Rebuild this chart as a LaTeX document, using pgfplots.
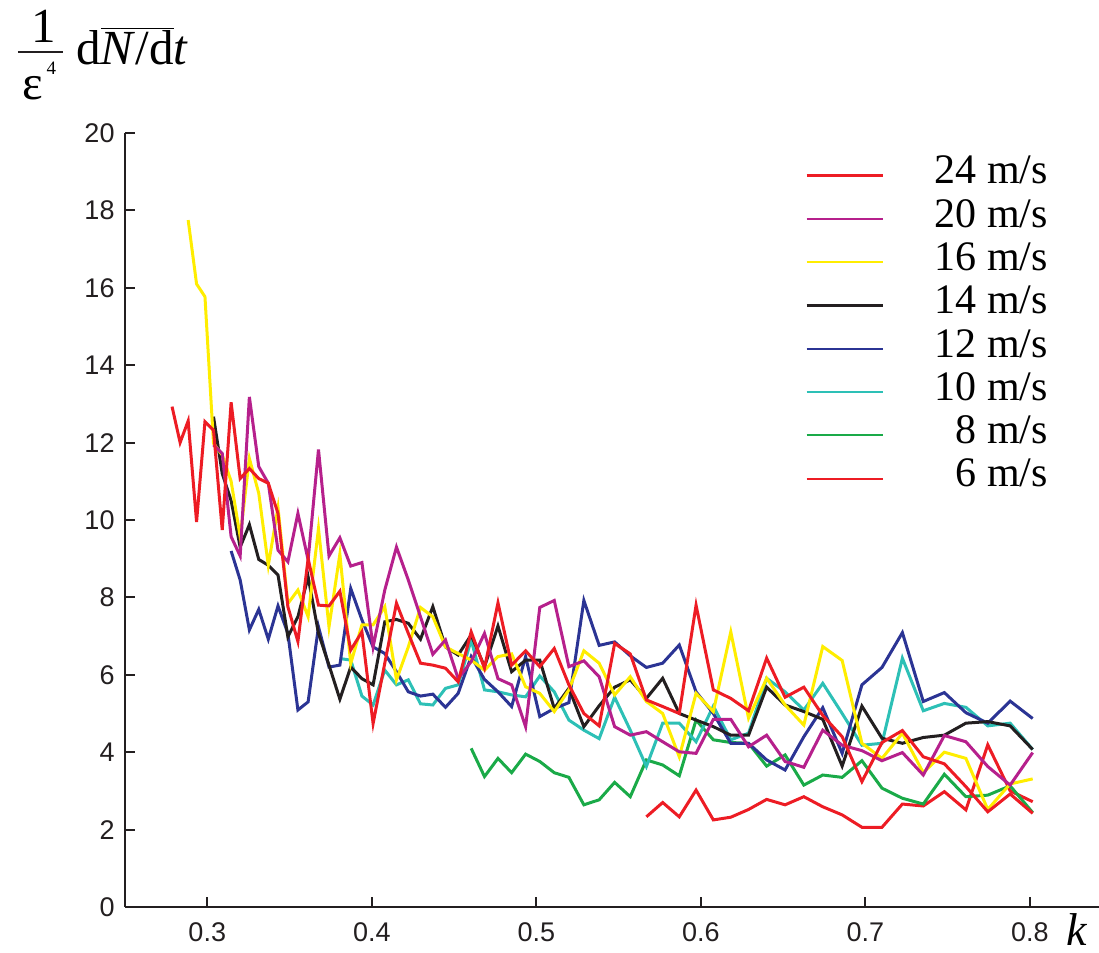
\documentclass[border=0pt]{standalone}
\usepackage{pgfplots}
\usepackage{pgfplotstable}
\pgfplotsset{compat=1.18}
\usepackage{fontspec}
\setmainfont{Liberation Serif}
\newfontfamily\sansfont{Liberation Sans}
\definecolor{cred}{RGB}{237,28,36}
\definecolor{cmag}{RGB}{182,32,140}
\definecolor{cyel}{RGB}{255,237,0}
\definecolor{cblk}{RGB}{35,31,32}
\definecolor{cblu}{RGB}{43,52,148}
\definecolor{ccya}{RGB}{45,192,182}
\definecolor{cgrn}{RGB}{26,170,72}
\definecolor{axgray}{RGB}{35,31,32}

\pgfplotstableread{
k      r24   m20   y16   k14   b12   c10   g8    r6
0.2786 12.93 nan   nan   nan   nan   nan   nan   nan
0.2835 12.00 nan   nan   nan   nan   nan   nan   nan
0.2884 12.56 nan   17.75 nan   nan   nan   nan   nan
0.2935 9.95  nan   16.10 nan   nan   nan   nan   nan
0.2986 12.54 nan   15.77 nan   nan   nan   nan   nan
0.3038 12.32 11.94 11.98 12.67 nan   nan   nan   nan
0.3091 9.74  11.72 11.68 11.20 nan   nan   nan   nan
0.3145 13.04 9.57  11.00 10.50 9.20  nan   nan   nan
0.3200 11.07 9.07  9.57  9.30  8.45  nan   nan   nan
0.3256 11.33 13.18 11.59 9.88  7.16  nan   nan   nan
0.3313 11.07 11.38 10.69 8.98  7.69  nan   nan   nan
0.3371 10.95 10.95 8.83  8.83  6.92  nan   nan   nan
0.3430 10.17 9.22  10.32 8.58  7.78  nan   nan   nan
0.3490 7.76  8.92  7.84  6.98  7.07  nan   nan   nan
0.3551 6.86  10.17 8.19  7.50  5.09  nan   nan   nan
0.3613 9.00  8.97  7.50  8.53  5.30  nan   nan   nan
0.3676 7.80  11.82 9.78  7.07  7.24  nan   nan   nan
0.3740 7.78  9.07  7.24  6.25  6.20  nan   nan   nan
0.3806 8.16  9.54  9.12  5.37  6.25  6.42  nan   nan
0.3872 6.64  8.81  6.29  6.20  8.23  6.38  nan   nan
0.3940 7.11  8.90  7.29  5.90  7.42  5.45  nan   nan
0.4008 4.74  6.72  7.29  5.74  6.72  5.22  nan   nan
0.4079 6.30  8.19  7.76  7.37  6.55  6.12  nan   nan
0.4150 7.85  9.30  5.87  7.43  6.08  5.74  nan   nan
0.4222 7.07  8.45  6.72  7.33  5.56  5.87  nan   nan
0.4296 6.30  7.50  7.74  6.92  5.45  5.25  nan   nan
0.4371 6.25  6.53  7.50  7.76  5.50  5.22  nan   nan
0.4448 6.17  6.90  6.72  6.72  5.16  5.65  nan   nan
0.4525 5.82  5.90  6.55  6.51  5.52  5.74  nan   nan
0.4604 7.11  6.34  6.38  7.03  6.47  6.90  4.10  nan
0.4685 6.17  7.07  6.12  6.21  5.88  5.61  3.37  nan
0.4767 7.86  5.90  6.47  7.26  5.56  5.56  3.84  nan
0.4850 6.25  5.74  6.54  6.08  5.18  5.48  3.47  nan
0.4935 6.62  4.66  5.69  6.38  6.47  5.43  3.95  nan
0.5021 6.21  7.74  5.52  6.38  4.92  5.97  3.76  nan
0.5109 6.68  7.92  5.05  5.13  5.13  5.56  3.47  nan
0.5198 5.74  6.21  5.61  5.65  5.28  4.83  3.35  nan
0.5289 5.00  6.36  6.62  4.66  7.92  4.57  2.64  nan
0.5382 4.68  5.95  6.30  5.20  6.76  4.35  2.77  nan
0.5476 6.81  4.66  5.48  5.68  6.85  5.42  3.22  nan
0.5571 6.54  4.44  5.95  5.87  6.49  4.57  2.85  nan
0.5669 5.35  4.53  5.31  5.39  6.19  3.63  3.80  2.33
0.5768 5.18  4.27  5.00  5.91  6.30  4.75  3.67  2.70
0.5869 5.00  4.01  3.88  5.00  6.77  4.75  3.39  2.33
0.5971 7.80  3.97  5.52  4.83  5.56  4.27  4.83  3.02
0.6076 5.61  4.85  5.05  4.66  5.00  5.19  4.32  2.25
0.6182 5.39  4.85  7.11  4.44  4.23  4.32  4.25  2.32
0.6290 5.07  4.14  4.88  4.44  4.23  4.49  4.23  2.52
0.6400 6.43  4.44  5.91  5.68  3.80  5.91  3.64  2.78
0.6512 5.42  3.76  5.22  5.22  3.54  5.56  3.93  2.64
0.6626 5.68  3.61  4.70  5.05  4.40  5.09  3.15  2.85
0.6741 4.95  4.57  6.73  4.85  5.15  5.78  3.41  2.59
0.6859 4.40  4.18  6.37  3.64  3.97  5.00  3.35  2.38
0.6979 3.24  4.04  4.23  5.19  5.74  4.18  3.78  2.06
0.7101 4.25  3.78  3.84  4.36  6.19  4.23  3.07  2.06
0.7225 4.56  3.99  4.49  4.23  7.09  6.43  2.81  2.66
0.7352 3.88  3.41  3.47  4.38  5.31  5.07  2.66  2.61
0.7480 3.70  4.43  4.00  4.44  5.54  5.26  3.43  2.98
0.7611 3.11  4.27  3.84  4.75  5.02  5.16  2.85  2.51
0.7744 2.46  3.63  2.52  4.79  4.75  4.68  2.89  4.19
0.7880 2.92  3.15  3.18  4.68  5.32  4.75  3.13  3.00
0.8017 2.42  3.99  3.31  4.07  4.87  4.07  2.44  2.72
}\data

\begin{document}
\begin{tikzpicture}
\path[use as bounding box] (-62.5pt,-23pt) rectangle (487pt,453.5pt);
\begin{axis}[
  at={(0pt,0pt)}, anchor=south west,
  scale only axis, width=487pt, height=387pt,
  xmin=0.25, xmax=0.842, ymin=0, ymax=20,
  axis lines*=left,
  tick align=inside,
  major tick length=5pt,
  axis line style={line width=1pt, color=axgray},
  tick style={line width=1pt, color=axgray},
  xtick={0.3,0.4,0.5,0.6,0.7,0.8},
  ytick={0,2,4,6,8,10,12,14,16,18,20},
  minor tick num=0,
  /pgf/number format/assume math mode=true,
  ticklabel style={font=\sansfont\fontsize{13.5}{15}\selectfont, color=axgray},
  xticklabel style={/pgf/number format/fixed, /pgf/number format/fixed zerofill, /pgf/number format/precision=1, yshift=-4.5pt},
  yticklabel style={xshift=-1.7pt},
  scaled ticks=false,
  reverse legend,
  legend cell align=right,
  legend style={draw=none, fill=none, at={(0.9476,0.973)}, anchor=north east,
    inner sep=0pt, outer sep=0pt, row sep=0pt,
    font=\fontsize{21}{25}\selectfont,
    nodes={inner sep=0pt, text height=15pt, text depth=6.65pt},
    /tikz/every odd column/.style={column sep=25.5pt}},
  legend image code/.code={\draw[#1, line width=1.1pt] (0pt,0pt) -- (38pt,0pt);},
  every axis plot/.append style={line width=1.5pt, line join=miter, mark=none},
]
\addplot[cred] table[x=k, y=r6] {\data}; \addlegendentry{6 m/s}
\addplot[cgrn] table[x=k, y=g8] {\data}; \addlegendentry{8 m/s}
\addplot[ccya] table[x=k, y=c10] {\data}; \addlegendentry{10 m/s}
\addplot[cblu] table[x=k, y=b12] {\data}; \addlegendentry{12 m/s}
\addplot[cblk] table[x=k, y=k14] {\data}; \addlegendentry{14 m/s}
\addplot[cyel] table[x=k, y=y16] {\data}; \addlegendentry{16 m/s}
\addplot[cmag] table[x=k, y=m20] {\data}; \addlegendentry{20 m/s}
\addplot[cred] table[x=k, y=r24] {\data}; \addlegendentry{24 m/s}
\end{axis}
% y-axis label: 1/eps^4 dN/dt
\node[anchor=base, inner sep=0pt, font=\fontsize{24.5}{29}\selectfont] at (-40.75pt,432pt) {1};
\draw[line width=1pt, color=axgray] (-53.5pt,427.5pt) -- (-31pt,427.5pt);
\node[anchor=base, inner sep=0pt, font=\fontsize{24.5}{29}\selectfont] at (-46pt,403.5pt) {ε};
\node[anchor=base, inner sep=0pt, font=\fontsize{9.5}{10}\selectfont] at (-36.75pt,416pt) {4};
\node[anchor=base west, inner sep=0pt, font=\fontsize{24.5}{29}\selectfont] at (-24.5pt,421pt)
  {d$\overline{\mbox{\itshape N\/\upshape/d}}$\textit{t}};
\node[anchor=base west, inner sep=0pt, font=\fontsize{23}{28}\selectfont\itshape] at (470.5pt,-19.5pt) {k};
\end{tikzpicture}
\end{document}
